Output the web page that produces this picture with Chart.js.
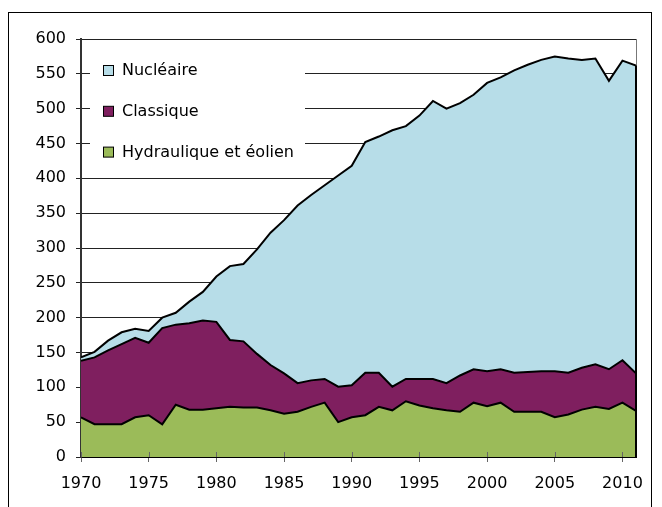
<!DOCTYPE html>
<html>
<head>
<meta charset="utf-8">
<script src="https://cdn.jsdelivr.net/npm/chart.js@4/dist/chart.umd.min.js"></script>
<style>
	body { margin: 0; background: #fff; }
	#wrap { position: relative; width: 662px; height: 507px; overflow: hidden; }
	#frame { position: absolute; left: 8px; top: 12px; width: 644px; height: 520px; border: 1px solid #000; box-sizing: border-box; }
	canvas { position: absolute; left: 0; top: 0; }
</style>
</head>
<body>
<div id="wrap">
	<div id="frame"></div>
	<canvas id="chart" width="662" height="507"></canvas>
</div>
<script>
// data (TWh per year, stacked)
const years = [
	1970, 1971, 1972, 1973, 1974, 1975, 1976, 1977, 1978, 1979,
	1980, 1981, 1982, 1983, 1984, 1985, 1986, 1987, 1988, 1989,
	1990, 1991, 1992, 1993, 1994, 1995, 1996, 1997, 1998, 1999,
	2000, 2001, 2002, 2003, 2004, 2005, 2006, 2007, 2008, 2009,
	2010, 2011
];

const hydraulique = [
	57, 47, 47, 47, 57, 60, 47, 75, 68, 68,
	70, 72, 71, 71, 67, 62, 65, 72, 78, 50,
	57, 60, 72, 67, 80, 74, 70, 67, 65, 78,
	73, 78, 65, 65, 65, 57, 61, 68, 72, 69,
	78, 66
];

const classique = [
	81, 96, 106, 115, 114, 104, 138, 115, 124, 128,
	124, 96, 95, 77, 65, 58, 41, 38, 34, 51,
	46, 61, 49, 34, 32, 38, 42, 39, 52, 48,
	50, 48, 56, 57, 58, 66, 60, 60, 61, 57,
	61, 54
];

const nucleaire = [
	5, 8, 14, 17, 13, 17, 15, 17, 31, 41,
	65, 106, 111, 150, 190, 220, 255, 266, 278, 303,
	315, 331, 339, 368, 363, 378, 399, 394, 391, 394,
	414, 419, 434, 441, 447, 452, 451, 442, 439, 414,
	430, 442
];

const seriesNames = ['Hydraulique et éolien', 'Classique', 'Nucléaire'];
const seriesColors = ['#9bbb59', '#7f1f5f', '#b7dde8'];

const yTickStep = 50;
const yMax = 600;
const xTickStep = 5;

const fontFamily = '"DejaVu Sans", sans-serif';

function toPoints(values) {
	return years.map((yr, i) => ({ x: yr, y: values[i] }));
}

// legend sits inside the plot, top-left, on a white box
const insideLegend = {
	id: 'insideLegend',
	afterDatasetsDraw(chart) {
		const ctx = chart.ctx;
		ctx.save();
		ctx.fillStyle = '#fff';
		ctx.fillRect(90, 48, 215, 120);

		ctx.font = '16px ' + fontFamily;
		ctx.textBaseline = 'middle';
		ctx.textAlign = 'left';

		const rows = [2, 1, 0];
		rows.forEach((dsIdx, r) => {
			const cy = 70 + r * 40.8;
			ctx.fillStyle = seriesColors[dsIdx];
			ctx.fillRect(103.5, cy - 4.5, 10, 10);
			ctx.strokeStyle = '#000';
			ctx.lineWidth = 1;
			ctx.strokeRect(103.5, cy - 4.5, 10, 10);
			ctx.fillStyle = '#000';
			ctx.fillText(seriesNames[dsIdx], 122, cy + 1);
		});
		ctx.restore();
	}
};

// right edge of the plot + little x tick marks poking into the area
const plotEdges = {
	id: 'plotEdges',
	afterDatasetsDraw(chart) {
		const ctx = chart.ctx;
		const area = chart.chartArea;
		const xs = chart.scales.x;
		const ys = chart.scales.y;
		ctx.save();

		ctx.strokeStyle = '#777';
		ctx.lineWidth = 1;
		ctx.beginPath();
		ctx.moveTo(area.right + 0.5, area.top);
		ctx.lineTo(area.right + 0.5, area.bottom);
		ctx.stroke();

		const last = years.length - 1;
		const total = hydraulique[last] + classique[last] + nucleaire[last];
		ctx.strokeStyle = '#000';
		ctx.lineWidth = 2;
		ctx.beginPath();
		ctx.moveTo(xs.getPixelForValue(years[last]), ys.getPixelForValue(total));
		ctx.lineTo(xs.getPixelForValue(years[last]), ys.getPixelForValue(0));
		ctx.stroke();

		ctx.strokeStyle = '#666';
		ctx.lineWidth = 1;
		xs.ticks.forEach(t => {
			const px = Math.round(xs.getPixelForValue(t.value)) + 0.5;
			ctx.beginPath();
			ctx.moveTo(px, area.bottom - 5);
			ctx.lineTo(px, area.bottom);
			ctx.stroke();
		});
		ctx.restore();
	}
};

const datasets = [hydraulique, classique, nucleaire].map((vals, i) => ({
	label: seriesNames[i],
	data: toPoints(vals),
	backgroundColor: seriesColors[i],
	borderColor: '#000',
	borderWidth: 2,
	pointRadius: 0,
	tension: 0,
	fill: i === 0 ? 'origin' : '-1'
}));

new Chart(document.getElementById('chart'), {
	type: 'line',
	data: { datasets },
	options: {
		responsive: false,
		animation: false,
		layout: { padding: { top: 39, right: 26, bottom: 0, left: 0 } },
		plugins: {
			legend: { display: false },
			tooltip: { enabled: false }
		},
		scales: {
			x: {
				type: 'linear',
				min: years[0],
				max: years[years.length - 1],
				grid: { drawOnChartArea: false, drawTicks: true, tickLength: 5, color: '#666' },
				border: { color: '#000', width: 2 },
				ticks: {
					stepSize: xTickStep,
					includeBounds: false,
					padding: 12,
					color: '#000',
					font: { family: fontFamily, size: 16 },
					callback: (v) => String(v)
				},
				afterFit: (scale) => { scale.height = 50; }
			},
			y: {
				stacked: true,
				min: 0,
				max: yMax,
				grid: { color: '#222', lineWidth: 1, tickLength: 5 },
				border: { color: '#333', width: 2 },
				ticks: {
					stepSize: yTickStep,
					padding: 10,
					color: '#000',
					font: { family: fontFamily, size: 16 }
				},
				afterFit: (scale) => { scale.width = 81; }
			}
		}
	},
	plugins: [insideLegend, plotEdges]
});
</script>
</body>
</html>
